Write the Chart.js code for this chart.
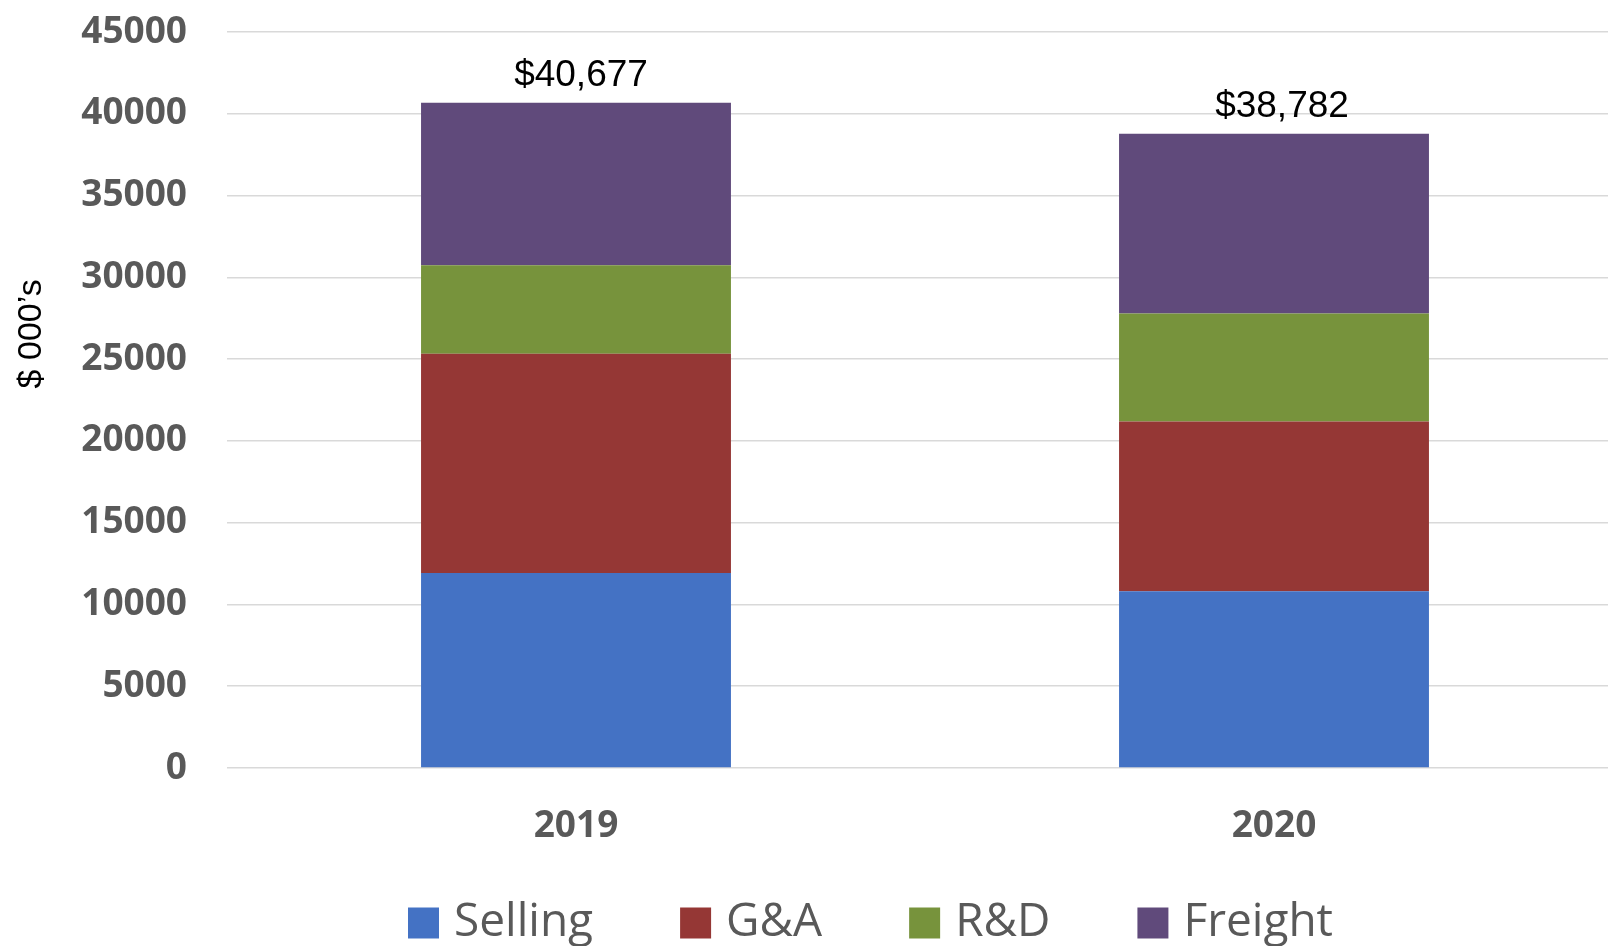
<!DOCTYPE html>
<html>
<head>
<meta charset="utf-8">
<script src="https://cdn.jsdelivr.net/npm/chart.js@4.4.1/dist/chart.umd.min.js"></script>
<style>
  html, body { margin: 0; padding: 0; background: #ffffff; overflow: hidden; }
  #wrap { width: 1608px; height: 946px; overflow: hidden; position: relative; }
  canvas { display: block; }
</style>
</head>
<body>
<div id="wrap"><canvas id="c" width="1623" height="999"></canvas></div>
<script>
// ---- data ----
const categories = ['2019', '2020'];
const seriesNames = ['Selling', 'G&A', 'R&D', 'Freight'];
const selling = [11930, 10811];
const gna = [13393, 10368];
const rnd = [5409, 6606];
const freight = [9945, 10997];
const yTickValues = [0, 5000, 10000, 15000, 20000, 25000, 30000, 35000, 40000, 45000];
const yTitle = "$ 000\u2019s";

const colors = ['#4472C4', '#953735', '#77933C', '#604A7B'];
const values = [selling, gna, rnd, freight];

const datasets = seriesNames.map((name, i) => ({
  label: name,
  data: values[i],
  backgroundColor: colors[i],
  borderWidth: 0,
  categoryPercentage: 1.0,
  barPercentage: 0.444
}));

const totalsPlugin = {
  id: 'totals',
  afterDatasetsDraw(chart) {
    const ctx = chart.ctx;
    const lastMeta = chart.getDatasetMeta(chart.data.datasets.length - 1);
    ctx.save();
    ctx.font = '37px "Liberation Sans", Arial, sans-serif';
    ctx.fillStyle = '#000000';
    ctx.textAlign = 'center';
    ctx.textBaseline = 'alphabetic';
    categories.forEach((c, i) => {
      const total = values.reduce((s, arr) => s + arr[i], 0);
      const el = lastMeta.data[i];
      ctx.fillText('$' + total.toLocaleString('en-US'), el.x + 5 + 3 * i, el.y - 17);
    });
    ctx.restore();
  }
};

// move the legend to sit where the reference shows it
const legendShift = {
  id: 'legendShift',
  afterLayout(chart) {
    const lg = chart.legend;
    if (lg) {
      lg.left += 63; lg.right += 63;
      lg.top -= 43; lg.bottom -= 43;
    }
  }
};

const defaultGen = Chart.defaults.plugins.legend.labels.generateLabels;

new Chart(document.getElementById('c'), {
  type: 'bar',
  data: { labels: categories, datasets },
  plugins: [totalsPlugin, legendShift],
  options: {
    responsive: false,
    animation: false,
    devicePixelRatio: 1,
    layout: { padding: { top: 32, left: 0, right: 0, bottom: 0 } },
    plugins: {
      tooltip: { enabled: false },
      legend: {
        position: 'bottom',
        align: 'center',
        labels: {
          boxWidth: 15,
          boxHeight: 15,
          padding: 95,
          color: '#595959',
          font: { family: '"Open Sans", sans-serif', size: 46, weight: 'normal' },
          generateLabels(chart) {
            return defaultGen(chart).map(item => Object.assign(item, {
              lineWidth: 16,
              strokeStyle: item.fillStyle,
              lineJoin: 'miter'
            }));
          }
        }
      }
    },
    scales: {
      x: {
        stacked: true,
        grid: { display: false },
        border: { display: false },
        ticks: {
          color: '#595959',
          padding: 28,
          font: { family: '"Open Sans", sans-serif', size: 37, weight: 'bold' }
        },
        afterFit(scale) { scale.height = 80; }
      },
      y: {
        stacked: true,
        min: 0,
        max: 45000,
        afterBuildTicks(scale) { scale.ticks = yTickValues.map(v => ({ value: v })); },
        grid: { color: '#d9d9d9', lineWidth: 1.5, drawTicks: true, tickLength: 40, tickColor: 'rgba(0,0,0,0)' },
        border: { display: false },
        ticks: {
          color: '#595959',
          padding: 0,
          font: { family: '"Open Sans", sans-serif', size: 37, weight: 'bold' },
          callback: v => String(v)
        },
        title: {
          display: true,
          text: '\u00A0'.repeat(14) + yTitle,
          color: '#000000',
          padding: { top: 11, bottom: 0 },
          font: { family: '"Liberation Sans", Arial, sans-serif', size: 34, weight: 'normal' }
        },
        afterFit(scale) { scale.width = 227; }
      }
    }
  }
});
</script>
</body>
</html>
